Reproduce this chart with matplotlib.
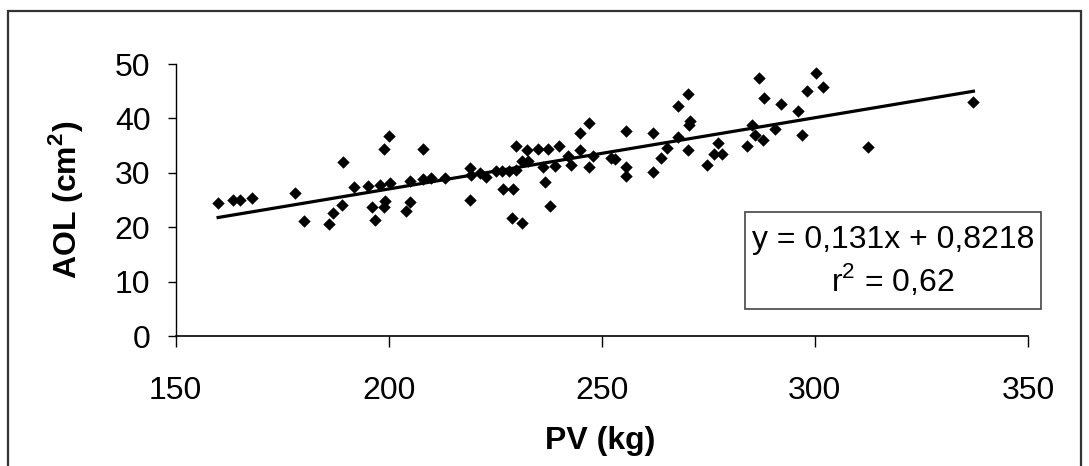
import matplotlib
matplotlib.use("Agg")
import matplotlib.pyplot as plt
from matplotlib.patches import Rectangle
import numpy as np

# PV (kg) and AOL (cm2)
pv = [160.0, 163.6, 165.1, 168.0, 178.0, 180.1, 186.0, 186.9, 189.0, 189.3,
      191.8, 195.1, 196.0, 196.9, 198.0, 198.9, 200.2, 199.1, 199.0, 200.3,
      204.9, 204.9, 204.0, 208.1, 208.0, 210.0, 213.2, 219.2, 219.3, 219.0,
      221.4, 222.9, 225.2, 226.7, 228.3, 229.9, 226.9, 229.1, 229.9, 229.0,
      231.2, 231.2, 232.6, 232.4, 235.0, 237.4, 240.0, 236.3, 236.7, 237.9,
      239.0, 242.1, 242.8, 244.9, 247.1, 244.9, 248.0, 247.1, 252.1, 253.0,
      255.8, 255.8, 255.8, 262.1, 262.1, 263.8, 265.2, 268.0, 268.0, 270.2,
      270.8, 270.4, 270.2, 274.8, 277.3, 276.4, 278.3, 284.0, 285.2, 286.0,
      287.8, 287.0, 288.1, 290.7, 292.0, 296.1, 296.9, 298.2, 300.3, 302.0,
      312.4, 337.2]
aol = [24.4, 25.0, 25.0, 25.4, 26.2, 21.1, 20.5, 22.6, 24.1, 32.0,
       27.4, 27.5, 23.8, 21.4, 27.8, 34.4, 36.8, 24.8, 23.8, 28.2,
       28.5, 24.6, 23.0, 34.4, 28.8, 29.1, 29.0, 30.9, 29.6, 25.0,
       29.9, 29.3, 30.3, 30.3, 30.4, 30.5, 27.1, 27.1, 35.0, 21.7,
       20.7, 32.1, 32.1, 34.2, 34.4, 34.4, 35.0, 31.0, 28.4, 23.9,
       31.3, 33.0, 31.4, 37.4, 39.2, 34.2, 33.0, 31.0, 32.8, 32.5,
       37.7, 31.0, 29.4, 37.4, 30.2, 32.8, 34.6, 36.5, 42.3, 44.4,
       39.6, 38.8, 34.2, 31.4, 35.4, 33.5, 33.5, 35.0, 38.8, 36.9,
       36.0, 47.4, 43.8, 38.1, 42.6, 41.4, 36.9, 45.0, 48.3, 45.8,
       34.7, 43.1]

slope = 0.131
intercept = 0.8218
eq_text = "y = 0,131x + 0,8218"
r2_text = "r$^{2}$ = 0,62"

x_ticks = [150, 200, 250, 300, 350]
y_ticks = [0, 10, 20, 30, 40, 50]

plt.rcParams["font.family"] = ["Liberation Sans", "DejaVu Sans"]
plt.rcParams["mathtext.fontset"] = "custom"
plt.rcParams["mathtext.rm"] = "Liberation Sans"
plt.rcParams["mathtext.bf"] = "Liberation Sans:bold"

W, H = 1089, 466
fig = plt.figure(figsize=(W / 100, H / 100), dpi=100)
ax = fig.add_axes([175.5 / W, (H - 336) / H, (1028 - 175.5) / W, (336 - 64) / H])

ax.scatter(pv, aol, marker="D", s=40, color="black", zorder=3, linewidths=0)
xl = np.array([min(pv), max(pv)])
ax.plot(xl, slope * xl + intercept, color="black", lw=2.3, zorder=2)

ax.set_xlim(150, 350)
ax.set_ylim(0, 50)
ax.set_xticks(x_ticks)
ax.set_yticks(y_ticks)
for s in ["top", "right"]:
    ax.spines[s].set_visible(False)
ax.spines["left"].set_linewidth(1.0)
ax.spines["bottom"].set_linewidth(1.2)
ax.tick_params(axis="y", direction="out", length=6, width=1, labelsize=23, pad=12)
ax.tick_params(axis="x", direction="out", length=8, width=1, labelsize=23, pad=21)

ax.set_ylabel(r"AOL (cm$^{\mathbf{2}}$)", fontsize=23, fontweight="bold")
ax.yaxis.set_label_coords(-0.106, 0.5)
ax.set_xlabel("PV (kg)", fontsize=23, fontweight="bold")
ax.xaxis.set_label_coords(0.498, -0.33)

# equation box
fig.add_artist(Rectangle((745 / W, (H - 309) / H), 296 / W, 97 / H,
                         transform=fig.transFigure, fill=False,
                         edgecolor="#444444", lw=1.2))
fig.text(893 / W, (H - 240) / H, eq_text, fontsize=23, ha="center", va="center")
fig.text(893 / W, (H - 280) / H, r2_text, fontsize=23, ha="center", va="center")

# outer frame, open at the bottom like the cropped reference
fig.add_artist(Rectangle((8 / W, -0.05), (1081 - 8) / W, (H - 11) / H + 0.05,
                         transform=fig.transFigure, fill=False,
                         edgecolor="#333333", lw=1.6))

fig.savefig("out.png", dpi=100)
